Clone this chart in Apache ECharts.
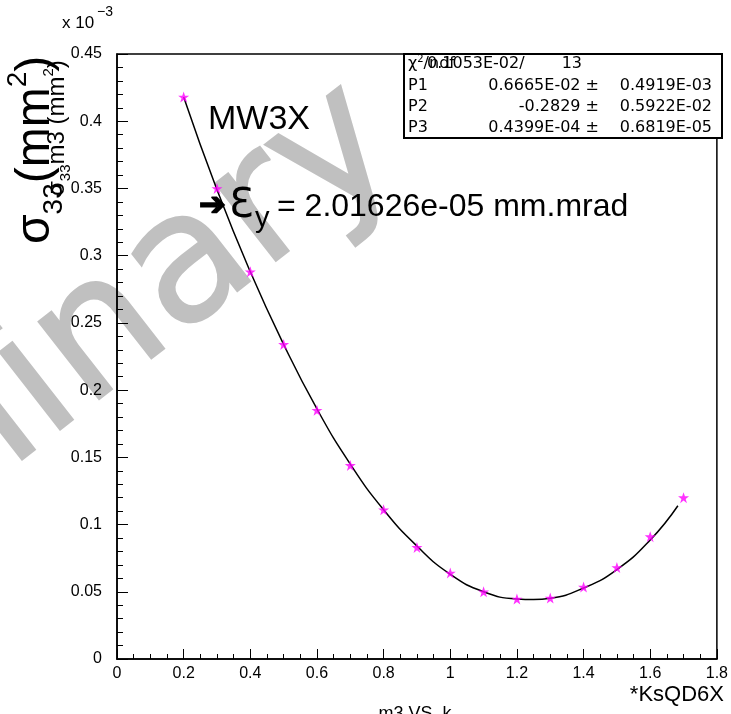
<!DOCTYPE html>
<html>
<head>
<meta charset="utf-8">
<title>MW3X</title>
<script src="https://cdn.jsdelivr.net/npm/echarts@6/dist/echarts.min.js"></script>
<style>
    html,body{margin:0;padding:0;background:#fff;}
    #chart{width:731px;height:714px;}
</style>
</head>
<body>
<div id="chart"></div>
<script>

// measured points: k and sigma33 (x 10^-3 mm^2)
var kValues=[0.2,0.3,0.4,0.5,0.6,0.7,0.8,0.9,1.0,1.1,1.2,1.3,1.4,1.5,1.6,1.7]
var sigmaValues=[0.418,0.350,0.288,0.234,0.185,0.144,0.111,0.083,0.064,0.050,0.0446,0.0453,0.0535,0.068,0.091,0.120]

// fitted curve
var fitK=[0.2,0.3,0.4,0.5,0.6,0.7,0.8,0.9,1.0,1.1,1.2,1.25,1.3,1.4,1.5,1.6,1.683]
var fitSigma=[0.418,0.349,0.288,0.234,0.186,0.145,0.111,0.084,0.063,0.050,0.0447,0.0443,0.0452,0.0528,0.0665,0.0885,0.114]

// axis ranges
var xMin=0,xMax=1.8,xStep=0.2
var yMin=0,yMax=0.45,yStep=0.05

// fit statistics box
var statNames=['P1','P2','P3']
var statValues=['0.6665E-02 \u00b1','-0.2829 \u00b1','0.4399E-04 \u00b1']
var statErrors=['0.4919E-03','0.5922E-02','0.6819E-05']
var chi2Value='0.1053E-02/'
var ndfValue='13'

var starPath='path://M50,0L61.8,34.5L97.6,34.5L68.5,55.9L79.4,90.5L50,69.1L20.6,90.5L31.5,55.9L2.4,34.5L38.2,34.5Z'
var sans='Liberation Sans'
var statFont='DejaVu Sans'

function txt(x,y,text,size,align,extra){
    var el={
        type:'text',x:x,y:y,z:20,
        style:{text:text,fill:'#000',fontSize:size,fontFamily:sans,
            textAlign:align||'left',align:align||'left',
            textVerticalAlign:'middle',verticalAlign:'middle'}
    }
    if(extra){for(var k in extra){el.style[k]=extra[k]}}
    return el
}

var graphics=[]

/*preliminary watermark*/
graphics.push({
    type:'text',x:-24,y:436,rotation:38*Math.PI/180,z:-1,silent:true,
    style:{text:'Preliminary',fontSize:180,fontFamily:'DejaVu Sans',
        fill:'#c0c0c0',stroke:'#c0c0c0',lineWidth:2,lineJoin:'round',
        textAlign:'center',align:'center',textVerticalAlign:'middle',verticalAlign:'middle'}
})

/*stats box*/
graphics.push({
    type:'rect',z:15,
    shape:{x:404,y:54,width:318,height:84},
    style:{fill:'#fff',stroke:'#000',lineWidth:2}
})
graphics.push({
    type:'text',x:408,y:64,z:20,
    style:{text:'{a|\u03c7}{s|2}{a|/ndf}',
        textAlign:'left',align:'left',textVerticalAlign:'middle',verticalAlign:'middle',
        rich:{a:{fontSize:16,fontFamily:statFont,color:'#000',lineHeight:20},
            s:{fontSize:10,fontFamily:statFont,color:'#000',verticalAlign:'top',lineHeight:10}}}
})
graphics.push(txt(427,64,chi2Value,16,'left',{fontFamily:statFont}))
graphics.push(txt(582,64,ndfValue,16,'right',{fontFamily:statFont}))
var rowY=[86,107,128]
for(var i=0;i<statNames.length;i++){
    graphics.push(txt(408,rowY[i],statNames[i],16,'left',{fontFamily:statFont}))
    graphics.push(txt(599,rowY[i],statValues[i],16,'right',{fontFamily:statFont}))
    graphics.push(txt(712,rowY[i],statErrors[i],16,'right',{fontFamily:statFont}))
}

/*labels*/
graphics.push(txt(62,23,'x 10',17))
graphics.push(txt(97,12,'\u22123',14))
graphics.push(txt(208,120,'MW3X',34))
graphics.push(txt(199,207,'\u2794',32,'left',{fontFamily:'DejaVu Sans',fontWeight:'bold',stroke:'#000',lineWidth:1.5}))
graphics.push(txt(229,207,'\u0190',40,'left',{fontFamily:'DejaVu Sans'}))
graphics.push(txt(255,219,'y',29))
graphics.push(txt(277,207,'= 2.01626e-05 mm.mrad',32))
graphics.push(txt(724,695,'*KsQD6X',22,'right'))
graphics.push(txt(415,714,'m3 VS. k',18,'center'))

/*y axis titles, rotated*/
graphics.push({
    type:'text',x:36,y:244,rotation:Math.PI/2,z:20,
    style:{text:'{b|\u03c3}{d|33}{b|(mm}{u|2}{b|)}',
        textAlign:'left',align:'left',textVerticalAlign:'middle',verticalAlign:'middle',
        rich:{b:{fontSize:48,fontFamily:sans,color:'#000',lineHeight:64},
            d:{fontSize:28,fontFamily:sans,color:'#000',verticalAlign:'bottom',lineHeight:28},
            u:{fontSize:28,fontFamily:sans,color:'#000',verticalAlign:'top',lineHeight:28}}}
})
graphics.push({
    type:'text',x:57,y:196,rotation:Math.PI/2,z:20,
    style:{text:'{b|\u03c3}{d|33}{b|m3 (mm}{u|2}{b|)}',
        textAlign:'left',align:'left',textVerticalAlign:'middle',verticalAlign:'middle',
        rich:{b:{fontSize:24,fontFamily:sans,color:'#000',lineHeight:32},
            d:{fontSize:15,fontFamily:sans,color:'#000',verticalAlign:'bottom',lineHeight:15},
            u:{fontSize:15,fontFamily:sans,color:'#000',verticalAlign:'top',lineHeight:15}}}
})

var myChart=echarts.init(document.getElementById('chart'))
var option={
    animation:false,
    backgroundColor:'#fff',
    grid:{left:117,right:9,top:54,bottom:55,show:true,borderColor:'#000',borderWidth:1.5},
    xAxis:{
        type:'value',min:xMin,max:xMax,interval:xStep,
        axisLine:{lineStyle:{color:'#000',width:1.5}},
        axisTick:{inside:true,length:10,lineStyle:{color:'#000'}},
        minorTick:{show:true,splitNumber:4,length:5,lineStyle:{color:'#000'}},
        splitLine:{show:false},
        axisLabel:{color:'#000',fontFamily:sans,fontSize:16,margin:7}
    },
    yAxis:{
        type:'value',min:yMin,max:yMax,interval:yStep,
        axisLine:{show:true,lineStyle:{color:'#000',width:1.5}},
        axisTick:{show:true,inside:true,length:11,lineStyle:{color:'#000'}},
        minorTick:{show:true,splitNumber:5,length:6,lineStyle:{color:'#000'}},
        splitLine:{show:false},
        axisLabel:{color:'#000',fontFamily:sans,fontSize:16,margin:15}
    },
    series:[{
        type:'line',
        data:fitK.map(function(k,i){return [k,fitSigma[i]]}),
        smooth:true,
        showSymbol:false,
        lineStyle:{color:'#000',width:1.5},
        z:3
    },{
        type:'scatter',
        data:kValues.map(function(k,i){return [k,sigmaValues[i]]}),
        symbol:starPath,
        symbolSize:11,
        itemStyle:{color:'#ff00ff'},
        z:4
    }],
    graphic:graphics
}
myChart.setOption(option)

</script>
</body>
</html>
